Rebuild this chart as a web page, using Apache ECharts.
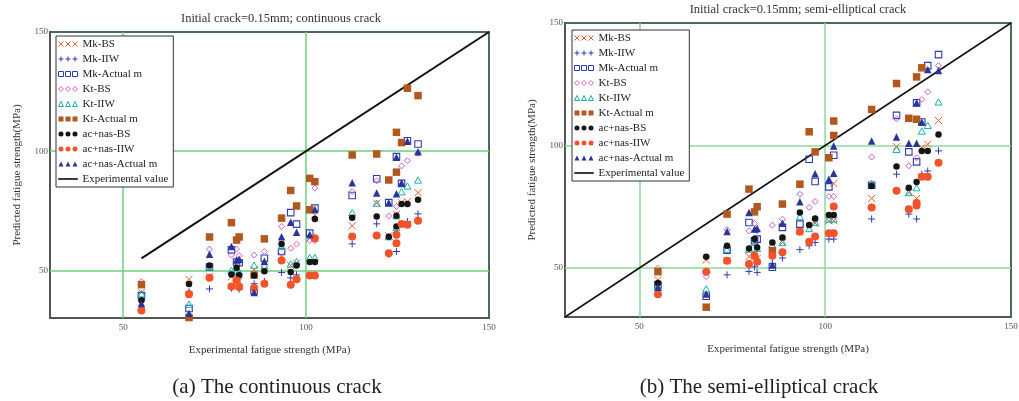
<!DOCTYPE html>
<html><head><meta charset="utf-8">
<script src="https://cdn.jsdelivr.net/npm/echarts@6.0.0/dist/echarts.min.js"></script>
<style>html,body{margin:0;padding:0;background:#fff}#c{width:1019px;height:401px}</style>
</head><body><div id="c"></div><script>
// ---------- DATA ----------
const seriesNames = ['Mk-BS','Mk-IIW','Mk-Actual m','Kt-BS','Kt-IIW','Kt-Actual m','ac+nas-BS','ac+nas-IIW','ac+nas-Actual m'];
const lineName = 'Experimental value';
const titleA = 'Initial crack=0.15mm; continuous crack';
const titleB = 'Initial crack=0.15mm; semi-elliptical crack';
const captionA = '(a) The continuous crack';
const captionB = '(b) The semi-elliptical crack';
const xName = 'Experimental fatigue strength (MPa)';
const yName = 'Predicted fatigue strength(MPa)';
const tickLabels = [50, 100, 150];
const gridVals = [50, 100];
const diagA = [[55,55],[150,150]];
const diagB = [[30,30],[150,150]];

// Panel (a): continuous crack  [experimental, predicted]
const A_mkBS = [[55,40.8],[68,46.2],[73.6,47.5],[79.6,47.3],[81,47.2],[81.7,45.5],[85.8,50.2],[88.6,50.5],[93.3,56.1],[95.8,52.0],[97.4,53.0],[101,63.5],[102.4,73.3],[112.6,68.7],[119.3,78.2],[122.6,64.5],[124.7,73.5],[126.1,78.4],[127.7,78.8],[130.6,82.6]];
const A_mkIIW = [[55,37.3],[68,41.0],[73.6,42.2],[79.6,42.5],[81,43.5],[81.7,42.1],[85.8,44.4],[88.6,45.3],[93.3,49.1],[95.8,46.8],[97.4,48.1],[101,47.8],[102.4,47.8],[112.6,61.1],[119.3,69.5],[122.6,56.7],[124.7,57.9],[127.7,70.5],[130.6,73.7]];
const A_mkAct = [[55,39.4],[68,34.0],[73.6,51.4],[79.6,58.6],[81,53.5],[81.7,53.2],[85.8,41.5],[88.6,55.1],[93.3,57.9],[95.8,74.2],[97.4,69.4],[101,65.6],[102.4,76.1],[112.6,81.4],[119.3,88.4],[122.6,78.4],[124.7,97.7],[126.1,86.5],[127.7,104.4],[130.6,103.0]];
const A_ktBS = [[55,45.2],[68,40.8],[73.6,58.9],[79.6,56.4],[81,58.9],[81.7,56.2],[85.8,56.4],[88.6,57.9],[93.3,68.4],[95.8,59.3],[97.4,61.0],[101,62.5],[102.4,84.5],[102.4,62.5],[112.6,83.0],[119.3,87.5],[122.6,72.8],[124.7,76.8],[126.1,93.8],[127.7,96.0],[130.6,99.1]];
const A_ktIIW = [[55,40.2],[68,35.8],[73.6,51.6],[79.6,50.0],[81,50.2],[81.7,49.4],[85.8,52.2],[88.6,51.9],[93.3,60.0],[95.8,52.7],[97.4,53.7],[101,55.4],[102.4,55.4],[112.6,74.2],[119.3,78.2],[122.6,64.1],[124.7,72.9],[124.7,68.0],[126.1,83.0],[127.7,85.4],[130.6,87.9]];
const A_ktAct = [[55,44.0],[68,30.2],[73.6,64.0],[79.6,70.0],[81,62.7],[81.7,64.0],[85.8,48.0],[88.6,63.2],[93.3,71.9],[95.8,83.5],[97.4,77.0],[101,75.4],[101,88.6],[102.4,87.2],[112.6,98.4],[119.3,98.8],[122.6,87.9],[124.7,107.9],[124.7,91.2],[126.1,103.6],[127.7,126.4],[130.6,123.3]];
const A_acBS = [[55,37.5],[68,44.3],[73.6,52.0],[79.6,48.2],[81,51.1],[81.7,47.9],[85.8,47.8],[88.6,49.6],[93.3,61.0],[95.8,49.3],[97.4,52.0],[101,53.5],[102.4,53.5],[102.4,71.5],[112.6,72.1],[119.3,72.6],[122.6,64.1],[124.7,72.9],[124.7,68.4],[126.1,77.8],[127.7,77.8],[130.6,79.6]];
const A_acIIW = [[55,33.1],[68,40.0],[73.6,46.9],[79.6,43.2],[81,45.7],[81.7,43.0],[85.8,42.6],[88.6,44.4],[93.3,54.1],[95.8,44.0],[97.4,46.3],[101,47.8],[102.4,47.8],[102.4,63.5],[112.6,64.2],[119.3,64.6],[122.6,57.2],[124.7,64.9],[124.7,61.4],[126.1,69.4],[127.7,69.1],[130.6,70.8]];
const A_acAct = [[55,36.1],[68,32.0],[73.6,56.8],[79.6,60.0],[81,54.3],[81.7,54.7],[85.8,40.7],[88.6,53.8],[93.3,64.1],[95.8,70.2],[97.4,66.0],[101,65.0],[102.4,75.5],[112.6,86.8],[119.3,82.4],[122.6,78.4],[124.7,97.4],[124.7,82.1],[126.1,86.8],[127.7,104.2],[130.6,99.8]];

// Panel (b): semi-elliptical crack
const B_mkBS = [[55,45.1],[68,53.3],[73.6,53.0],[79.5,54.7],[81,56.1],[81.7,53.9],[88.5,60.4],[93.2,64.8],[97.3,68.3],[101,69.3],[102.3,69.3],[102.3,84.5],[112.5,78.4],[119.2,99.5],[122.5,80.8],[124.6,78.4],[126,99.1],[127.6,100.5],[130.5,110.2]];
const B_mkIIW = [[55,41.0],[73.6,47.2],[79.5,48.6],[81,50.5],[81.7,48.2],[85.8,51.9],[88.5,54.1],[93.2,57.5],[95.7,59.1],[97.3,60.4],[101,61.8],[102.3,61.8],[112.5,70.0],[119.2,88.3],[122.5,72.0],[124.6,70.0],[126,88.3],[127.6,89.6],[130.5,97.8]];
const B_mkAct = [[55,43.1],[68,38.5],[73.6,57.3],[79.5,68.6],[81,61.1],[81.7,61.8],[85.8,50.3],[88.5,66.6],[93.2,67.9],[95.7,94.4],[97.3,85.3],[101,83.1],[102.3,96.0],[112.5,83.8],[119.2,112.3],[122.5,97.4],[124.6,117.4],[124.6,93.3],[126,109.6],[127.6,132.6],[130.5,137.1]];
const B_ktBS = [[55,49.9],[68,46.5],[73.6,65.6],[79.5,65.2],[81,68.2],[81.7,65.2],[85.8,67.5],[88.5,69.9],[93.2,80.1],[95.7,74.7],[97.3,77.1],[101,79.2],[102.3,79.2],[112.5,95.3],[119.2,110.9],[122.5,91.7],[124.6,95.0],[126,118.8],[127.6,121.9],[130.5,132.6]];
const B_ktIIW = [[55,42.8],[68,41.5],[73.6,57.7],[79.5,57.7],[81,60.4],[81.7,58.0],[85.8,59.5],[88.5,60.4],[93.2,71.0],[95.7,66.1],[97.3,68.6],[101,70.0],[102.3,70.0],[112.5,84.6],[119.2,98.4],[122.5,80.8],[124.6,82.8],[126,105.9],[127.6,108.2],[130.5,117.8]];
const B_ktAct = [[55,48.5],[68,34.0],[73.6,72.0],[79.5,82.2],[81,72.9],[81.7,75.0],[85.8,57.1],[88.5,76.1],[93.2,84.2],[95.7,105.6],[97.3,97.4],[101,95.0],[102.3,110.0],[102.3,104.1],[112.5,114.7],[119.2,125.3],[122.5,111.1],[124.6,128.0],[124.6,110.7],[126,131.7]];
const B_acBS = [[55,43.9],[68,54.6],[73.6,59.1],[79.5,58.0],[81,61.8],[81.7,58.4],[85.8,60.4],[88.5,62.5],[93.2,72.7],[95.7,67.6],[97.3,70.2],[101,71.6],[102.3,71.6],[112.5,83.5],[119.2,91.4],[122.5,82.8],[124.6,85.1],[126,97.8],[127.6,97.8],[130.5,104.5]];
const B_acIIW = [[55,39.3],[68,48.5],[73.6,53.0],[79.5,51.6],[81,55.0],[81.7,52.6],[85.8,55.0],[88.5,56.4],[93.2,64.8],[95.7,60.7],[97.3,62.9],[101,64.2],[102.3,64.2],[102.3,75.1],[112.5,74.7],[119.2,81.5],[122.5,74.0],[124.6,76.5],[124.6,75.5],[126,87.2],[127.6,87.2],[130.5,93.0]];
const B_acAct = [[55,42.1],[68,39.4],[73.6,64.9],[79.5,72.7],[81,65.9],[81.7,66.1],[85.8,51.2],[88.5,68.3],[93.2,77.0],[97.3,88.5],[101,86.2],[102.3,99.8],[102.3,88.7],[112.5,101.8],[119.2,103.5],[122.5,100.9],[124.6,117.4],[124.6,100.9],[126,109.6],[127.6,131.0],[130.5,130.6]];

const panelA = [A_mkBS, A_mkIIW, A_mkAct, A_ktBS, A_ktIIW, A_ktAct, A_acBS, A_acIIW, A_acAct];
const panelB = [B_mkBS, B_mkIIW, B_mkAct, B_ktBS, B_ktIIW, B_ktAct, B_acBS, B_acIIW, B_acAct];

// ---------- STYLE ----------
const FONT = '"Liberation Serif", "DejaVu Serif", serif';
const NONE = 'rgba(0,0,0,0)';
const circ = (x)=>`M${x},2.5a2.5,2.5 0 1,0 5,0a2.5,2.5 0 1,0 -5,0Z`;
const STY = [
  {sym:'path://M0,0L10,10M10,0L0,10', size:7, fill:NONE, stroke:'#ef5a34', lw:1,
   icon:'path://M0,0L5,5M5,0L0,5M7,0L12,5M12,0L7,5M14,0L19,5M19,0L14,5'},
  {sym:'path://M5,0V10M0,5H10', size:7, fill:NONE, stroke:'#2c3cb4', lw:1,
   icon:'path://M2.5,0V5M0,2.5H5M9.5,0V5M7,2.5H12M16.5,0V5M14,2.5H19'},
  {sym:'path://M0,0H10V10H0Z', size:6.5, fill:NONE, stroke:'#2c3cb4', lw:1.1,
   icon:'path://M0,0H5V5H0ZM7,0H12V5H7ZM14,0H19V5H14Z'},
  {sym:'path://M5,0L10,5L5,10L0,5Z', size:6, fill:NONE, stroke:'#d45cc8', lw:1,
   icon:'path://M2.5,0L5,2.5L2.5,5L0,2.5ZM9.5,0L12,2.5L9.5,5L7,2.5ZM16.5,0L19,2.5L16.5,5L14,2.5Z'},
  {sym:'path://M5,0L10,9H0Z', size:7, fill:NONE, stroke:'#17b1ae', lw:1,
   icon:'path://M2.5,0L5,5H0ZM9.5,0L12,5H7ZM16.5,0L19,5H14Z'},
  {sym:'rect', size:7.5, fill:'#b0581e', stroke:null, lw:0,
   icon:'path://M0,0H5V5H0ZM7,0H12V5H7ZM14,0H19V5H14Z'},
  {sym:'circle', size:6.5, fill:'#151515', stroke:null, lw:0,
   icon:'path://'+circ(0)+circ(7)+circ(14)},
  {sym:'circle', size:8, fill:'#f2532b', stroke:null, lw:0,
   icon:'path://'+circ(0)+circ(7)+circ(14)},
  {sym:'triangle', size:7.5, fill:'#2b3596', stroke:null, lw:0,
   icon:'path://M2.5,0L5,5H0ZM9.5,0L12,5H7ZM16.5,0L19,5H14Z'}
];
const LINE_ICON = 'path://M0,0H19V0.6H0Z';

function xAx(gi){
  return {gridIndex:gi, type:'value', min:30, max:150, interval:10,
    axisLine:{show:true, onZero:false, lineStyle:{color:'#555', width:2}},
    axisTick:{show:false}, splitLine:{show:false},
    axisLabel:{formatter:v=>tickLabels.includes(v)?String(v):'', fontFamily:FONT, fontSize:9, color:'#555', margin:5, hideOverlap:false},
    name:xName, nameLocation:'middle', nameGap:27,
    nameTextStyle:{fontFamily:FONT, fontSize:11, color:'#333'}};
}
function yAx(gi){
  return {gridIndex:gi, type:'value', min:30, max:150, interval:10,
    axisLine:{show:true, onZero:false, lineStyle:{color:'#555', width:2}},
    axisTick:{show:false}, splitLine:{show:false},
    axisLabel:{formatter:v=>tickLabels.includes(v)?String(v):'', fontFamily:FONT, fontSize:9, color:'#555', margin:2, hideOverlap:false},
    name:yName, nameLocation:'middle', nameGap:27,
    nameTextStyle:{fontFamily:FONT, fontSize:11, color:'#333'}};
}
function gridLines(){
  const d=[]; gridVals.forEach(v=>{d.push({xAxis:v}); d.push({yAxis:v});}); return d;
}
function diagSeries(gi, data, color){
  return {name:lineName, type:'line', xAxisIndex:gi, yAxisIndex:gi, data:data,
    symbol:'none', lineStyle:{color:'#111', width:gi===0?2:1.5}, silent:true, z:3,
    markLine:{silent:true, z:1, symbol:'none', label:{show:false}, animation:false,
      lineStyle:{color:color, width:1.5, type:'solid'}, data:gridLines()}};
}
const series = [diagSeries(0, diagA, '#6fcf7c'), diagSeries(1, diagB, '#8dd99c')];
[panelA, panelB].forEach((panel, gi)=>{
  panel.forEach((data, i)=>{
    const s = STY[i];
    series.push({name:seriesNames[i], type:'scatter', xAxisIndex:gi, yAxisIndex:gi, data:data,
      symbol:s.sym, symbolSize:s.size, symbolKeepAspect:true, z:4,
      itemStyle: s.stroke ? {color:s.fill, borderColor:s.stroke, borderWidth:s.lw, opacity:1} : {color:s.fill, opacity:1}});
  });
});
const legendData = seriesNames.map((n,i)=>({name:n, icon:STY[i].icon}))
  .concat([{name:lineName, icon:LINE_ICON, itemStyle:{color:'#222', borderColor:'#222', borderWidth:1}}]);
function legend(left, top){
  return {z:20, left:left, top:top, orient:'vertical', data:legendData, itemWidth:19, itemHeight:6, itemGap:3,
    symbolKeepAspect:true, padding:[2,5,2,2], backgroundColor:'#fff', borderColor:'#333', borderWidth:1, borderRadius:0,
    selectedMode:false, itemStyle:{borderWidth:1},
    textStyle:{fontFamily:FONT, fontSize:11, color:'#222', lineHeight:12}};
}

const chart = echarts.init(document.getElementById('c'), null, {renderer:'canvas'});
chart.setOption({
  backgroundColor:'#fff', animation:false,
  title:[
    {text:titleA, left:276, top:7, textAlign:'center', textStyle:{fontFamily:FONT, fontSize:12.5, fontWeight:'normal', color:'#333'}},
    {text:titleB, left:793, top:-2, textAlign:'center', textStyle:{fontFamily:FONT, fontSize:12.5, fontWeight:'normal', color:'#333'}},
    {text:captionA, left:272, top:372, textAlign:'center', textStyle:{fontFamily:FONT, fontSize:21, fontWeight:'normal', color:'#222'}},
    {text:captionB, left:754, top:372, textAlign:'center', textStyle:{fontFamily:FONT, fontSize:21, fontWeight:'normal', color:'#222'}}
  ],
  legend:[legend(56,36), legend(572,30)],
  grid:[
    {left:50, top:32, width:439, height:286, show:true, borderColor:'#4a6b55', borderWidth:2, backgroundColor:'transparent', containLabel:false, outerBoundsMode:'none'},
    {left:565, top:23, width:446, height:294, show:true, borderColor:'#4a6b55', borderWidth:2, backgroundColor:'transparent', containLabel:false, outerBoundsMode:'none'}
  ],
  xAxis:[xAx(0), xAx(1)],
  yAxis:[yAx(0), yAx(1)],
  series:series
});
</script></body></html>
